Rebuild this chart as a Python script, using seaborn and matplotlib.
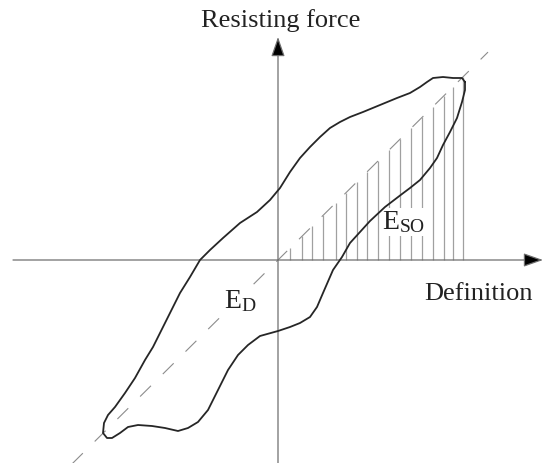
import numpy as np
import pandas as pd
import matplotlib
matplotlib.use("Agg")
import matplotlib.pyplot as plt
import seaborn as sns

# ---- data (units: displacement / force, origin at axes crossing) ----
loop_x = [18.7, 18.4, 17.5, 16.5, 15.5, 14.9, 14.2, 13.2, 11.9, 10.2, 8.5, 7.2, 6.2,
          5.2, 4.2, 3.2, 2.2, 1.2, 0.2, -0.8, -2.1, -3.8, -5.5, -6.8, -7.8, -8.8,
          -9.8, -10.8, -11.8, -12.5, -13.3, -14.3, -15.3, -16.3, -17.0, -17.4,
          -17.5, -17.1, -16.6, -15.8, -15.0, -14.0, -12.6, -11.3, -10.0, -9.0,
          -8.0, -7.0, -6.0, -5.0, -4.0, -3.0, -1.8, 0.0, 1.2, 2.2, 3.2, 3.9, 4.5,
          5.5, 6.4, 7.2, 8.2, 9.2, 10.7, 12.4, 13.2, 14.2, 15.2, 15.9, 16.5, 17.2,
          17.9, 18.4, 18.7, 18.7]
loop_y = [17.8, 18.2, 18.2, 18.3, 18.2, 17.8, 17.3, 16.7, 16.2, 15.5, 14.8, 14.3, 13.8,
          13.2, 12.3, 11.3, 10.2, 8.8, 7.2, 6.0, 4.8, 3.7, 2.2, 1.0, 0.0, -1.7,
          -3.3, -5.3, -7.3, -8.7, -10.0, -11.8, -13.3, -14.7, -15.5, -16.3,
          -17.3, -17.8, -17.8, -17.3, -16.7, -16.5, -16.6, -16.8, -17.1, -16.8,
          -16.2, -15.0, -13.0, -11.0, -9.5, -8.5, -7.6, -7.1, -6.7, -6.3, -5.7, -4.7, -3.3,
          -1.0, 0.3, 1.7, 2.8, 3.9, 5.3, 6.6, 7.2, 8.0, 9.2, 10.2, 11.5, 12.8,
          14.2, 15.8, 17.0, 17.8]

secant_x = [-20.6, 21.0]
secant_slope = 0.99
hatch_x = [1.2, 2.4, 3.4, 4.5, 5.8, 6.8, 7.9, 8.9, 10.0, 11.1, 12.2, 13.3, 14.4,
           15.5, 16.6, 17.5, 18.5]

x_axis_label = "Definition"
y_axis_label = "Resisting force"
label_ed = r"$\mathrm{E}_{\mathrm{D}}$"
label_eso = r"$\mathrm{E}_{\mathrm{SO}}$"

# ---- styling ----
sns.set_theme(style="white")
plt.rcParams["font.family"] = ["Liberation Serif", "DejaVu Serif"]
plt.rcParams["mathtext.fontset"] = "custom"
plt.rcParams["mathtext.rm"] = "Liberation Serif"
plt.rcParams["mathtext.it"] = "Liberation Serif:italic"
plt.rcParams["lines.scale_dashes"] = False

fig = plt.figure(figsize=(5.46, 4.63), dpi=100)
ax = fig.add_axes([0, 0, 1, 1])
ax.set_xlim(-27.8, 26.8)
ax.set_ylim(-20.3, 26.0)
ax.axis("off")

# axes with arrows
arrow_kw = dict(arrowstyle="-|>,head_length=1.0,head_width=0.35",
                color="#6e6e6e", lw=0.9, fc="black", ec="#6e6e6e",
                shrinkA=0, shrinkB=0)
ax.annotate("", xy=(26.5, 0), xytext=(-26.5, 0), arrowprops=arrow_kw, zorder=2)
ax.annotate("", xy=(0, 22.3), xytext=(0, -20.3), arrowprops=arrow_kw, zorder=2)

# secant (dashed)
sec = pd.DataFrame({"x": secant_x, "y": [secant_slope * v for v in secant_x]})
sns.lineplot(data=sec, x="x", y="y", ax=ax, color="#8c8c8c", lw=0.8,
             linestyle=(0, (11, 12)), zorder=1)

# hatch (elastic strain energy)
ax.vlines(hatch_x, 0, [secant_slope * v for v in hatch_x], color="#a0a0a0",
          lw=0.9, zorder=1)

# hysteresis loop
loop = pd.DataFrame({"x": loop_x, "y": loop_y})
sns.lineplot(data=loop, x="x", y="y", ax=ax, sort=False, estimator=None,
             color="#262626", lw=1.3, zorder=5, solid_joinstyle="round",
             solid_capstyle="round")

# labels
ax.text(0.3, 23.3, y_axis_label, ha="center", va="baseline", fontsize=19,
        color="#222222")
ax.text(20.0, -4.0, x_axis_label, ha="center", va="baseline", fontsize=19,
        color="#222222")
ax.text(-5.4, -4.8, label_ed, ha="left", va="baseline", fontsize=20,
        color="#222222", zorder=3,
        bbox=dict(fc="white", ec="none", pad=1.0))
ax.text(10.4, 3.1, label_eso, ha="left", va="baseline", fontsize=20,
        color="#222222", zorder=3,
        bbox=dict(fc="white", ec="none", pad=0.5))

ax.set_xlabel("")
ax.set_ylabel("")
fig.savefig("out.png", dpi=100)
